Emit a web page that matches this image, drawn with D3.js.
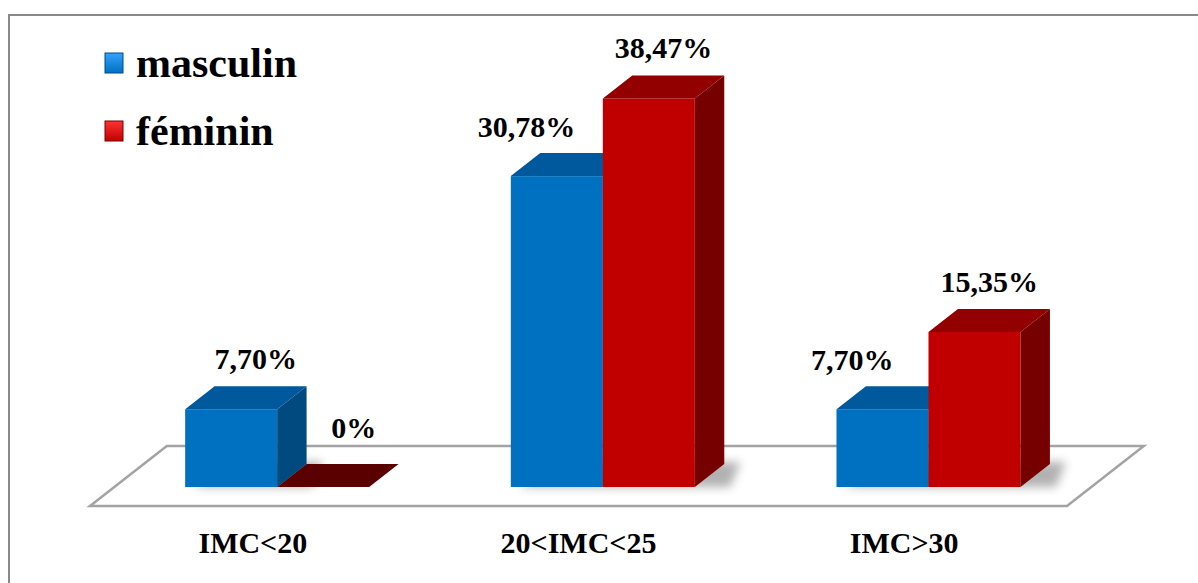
<!DOCTYPE html>
<html>
<head>
<meta charset="utf-8">
<script src="https://cdn.jsdelivr.net/npm/d3@7/dist/d3.min.js"></script>
<style>
  html, body { margin: 0; padding: 0; background: #ffffff; }
  svg { display: block; }
</style>
</head>
<body>
<svg id="chart" width="1198" height="583"></svg>
<script>
// ---- data ----
const categories = ["IMC<20", "20<IMC<25", "IMC>30"];
const seriesNames = ["masculin", "féminin"];
const masculin = [7.70, 30.78, 7.70];
const feminin = [0, 38.47, 15.35];

// ---- layout ----
const svg = d3.select("#chart");
const font = "'Liberation Serif', 'Times New Roman', serif";

const k = 1.28;               // horizontal shift per vertical px of depth
const floorFront = 506, floorDepth = 60;
const barOffset = 19, barDepth = 23;
const barBottom = floorFront - barOffset;
const bdx = barDepth * k, bdy = barDepth;

const x = d3.scaleBand().domain(categories).range([90, 1067])
  .paddingInner(0.435).paddingOuter(0.2175);
const xs = d3.scaleBand().domain(seriesNames).range([0, x.bandwidth()]);
const y = d3.scaleLinear().domain([0, 40]).range([barBottom, barBottom - 404]);

const colors = {
  "masculin": { front: "#0070c0", top: "#00599d", side: "#004a80", flat: "#00406e", light: "#33a3ff" },
  "féminin":  { front: "#c00000", top: "#920000", side: "#760000", flat: "#5a0000", light: "#ff3333" }
};

// border
svg.append("rect").attr("x", 9).attr("y", 15).attr("width", 1400).attr("height", 800)
  .attr("fill", "none").attr("stroke", "#898989").attr("stroke-width", 2);

// defs
const defs = svg.append("defs");
defs.append("filter").attr("id", "blur").attr("x", "-50%").attr("y", "-50%")
  .attr("width", "200%").attr("height", "200%")
  .append("feGaussianBlur").attr("stdDeviation", 5);
seriesNames.forEach((s, i) => {
  const gr = defs.append("linearGradient").attr("id", "lg" + i)
    .attr("x1", 0).attr("y1", 0).attr("x2", 0).attr("y2", 1);
  gr.append("stop").attr("offset", "0%").attr("stop-color", colors[s].light);
  gr.append("stop").attr("offset", "100%").attr("stop-color", colors[s].front);
});

// floor
const fx0 = x.range()[0], fx1 = x.range()[1];
svg.append("polygon")
  .attr("points", [[fx0, floorFront], [fx1, floorFront],
    [fx1 + floorDepth * k, floorFront - floorDepth], [fx0 + floorDepth * k, floorFront - floorDepth]]
    .map(p => p.join(",")).join(" "))
  .attr("fill", "#ffffff").attr("stroke", "#a3a3a3").attr("stroke-width", 2.5);

// bars data
const bars = [];
categories.forEach((c, i) => {
  [["masculin", masculin[i]], ["féminin", feminin[i]]].forEach(([s, v]) => {
    bars.push({ cat: c, s, v, i });
  });
});

const fmt = v => v === 0 ? "0%" : v.toFixed(2).replace(".", ",") + "%";

// shadows
const gShadow = svg.append("g").attr("filter", "url(#blur)").attr("opacity", 0.45);
bars.forEach(b => {
  if (b.v === 0) return;
  const x0 = x(b.cat) + xs(b.s) + barOffset * k, w = xs.bandwidth();
  gShadow.append("polygon")
    .attr("points", [[x0 + 8, barBottom], [x0 + w + bdx + 6, barBottom],
      [x0 + w + bdx + 16, barBottom - bdy - 2], [x0 + bdx + 16, barBottom - bdy - 2]]
      .map(p => p.join(",")).join(" "))
    .attr("fill", "#555");
});

// bars
const gBars = svg.append("g");
bars.forEach(b => {
  const c = colors[b.s];
  const x0 = x(b.cat) + xs(b.s) + barOffset * k;
  const w = xs.bandwidth();
  const top = y(b.v);
  const g = gBars.append("g");
  if (b.v === 0) {
    g.append("polygon")
      .attr("points", [[x0, top], [x0 + w, top], [x0 + w + bdx, top - bdy], [x0 + bdx, top - bdy]]
        .map(p => p.join(",")).join(" "))
      .attr("fill", c.flat);
    return;
  }
  g.append("rect").attr("x", x0).attr("y", top).attr("width", w).attr("height", barBottom - top)
    .attr("fill", c.front);
  g.append("polygon")
    .attr("points", [[x0, top], [x0 + w, top], [x0 + w + bdx, top - bdy], [x0 + bdx, top - bdy]]
      .map(p => p.join(",")).join(" "))
    .attr("fill", c.top);
  g.append("polygon")
    .attr("points", [[x0 + w, top], [x0 + w + bdx, top - bdy], [x0 + w + bdx, barBottom - bdy], [x0 + w, barBottom]]
      .map(p => p.join(",")).join(" "))
    .attr("fill", c.side);
});

// value labels
const gLab = svg.append("g");
bars.forEach(b => {
  const x0 = x(b.cat) + xs(b.s) + barOffset * k;
  const w = xs.bandwidth();
  const top = y(b.v);
  let cx = x0 + w / 2 + bdx / 2;
  let by = top - bdy - 17;
  const partner = b.s === "masculin" ? feminin[b.i] : null;
  if (partner !== null && partner > b.v) { cx -= 45; by = top - bdy - 16; }
  else if (partner !== null) { cx += 10; }
  if (b.v === 0) { cx += 16; by = top - bdy - 26; }
  gLab.append("text").attr("x", cx).attr("y", by)
    .attr("text-anchor", "middle")
    .attr("font-family", font).attr("font-weight", "bold").attr("font-size", 30)
    .attr("fill", "#000").text(fmt(b.v));
});

// category axis
const axis = d3.axisBottom(x).tickSize(0).tickPadding(0);
const gAxis = svg.append("g").attr("transform", "translate(0,553)").call(axis);
gAxis.select(".domain").remove();
gAxis.selectAll("text").attr("y", 0).attr("dy", 0)
  .attr("font-family", font).attr("font-weight", "bold").attr("font-size", 30)
  .attr("fill", "#000");

// legend
const legend = svg.append("g");
seriesNames.forEach((s, i) => {
  const yb = 77 + i * 68;
  legend.append("rect").attr("x", 105).attr("y", yb - 24).attr("width", 18).attr("height", 20)
    .attr("fill", "url(#lg" + i + ")").attr("stroke", colors[s].side).attr("stroke-width", 1);
  legend.append("text").attr("x", 136).attr("y", yb)
    .attr("font-family", font).attr("font-weight", "bold").attr("font-size", 42)
    .attr("fill", "#000").text(s);
});
</script>
</body>
</html>
